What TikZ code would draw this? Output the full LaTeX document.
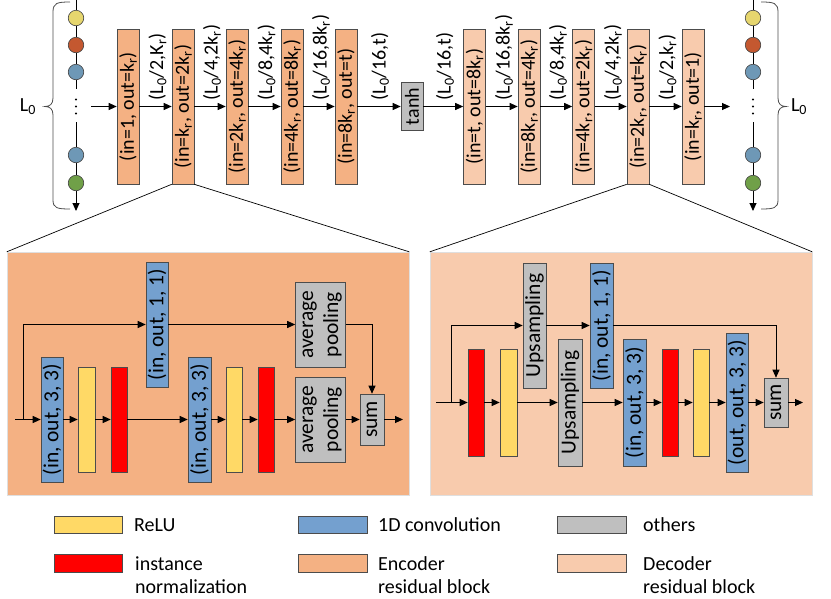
\documentclass[tikz,border=0pt]{standalone}
\usepackage{fontspec}
\setmainfont{Carlito}
\usetikzlibrary{arrows.meta}
\newcommand{\LzS}{L\textsubscript{0}}
\newcommand{\krS}{k\textsubscript{r}}
\definecolor{encC}{HTML}{F4B183}
\definecolor{decC}{HTML}{F8CBAD}
\definecolor{othC}{HTML}{BFBFBF}
\definecolor{convC}{HTML}{74A0CF}
\definecolor{reluC}{HTML}{FFD966}
\definecolor{normC}{HTML}{FF0000}
\definecolor{cYel}{HTML}{E6D66E}
\definecolor{cBrn}{HTML}{C45830}
\definecolor{cBlu}{HTML}{6E98B6}
\definecolor{cGrn}{HTML}{70A048}
\begin{document}
\begin{tikzpicture}[x=1pt,y=-1pt,
  every node/.style={font=\fontsize{20}{24}\selectfont, inner sep=0pt},
  bfont/.style={font=\fontsize{21.5}{25}\selectfont},
  blk/.style={draw=black!70, line width=0.6pt, inner sep=0pt},
  sz/.style 2 args={minimum width=#1pt, minimum height=#2pt},
  circ/.style={circle, draw=black!75, line width=0.6pt, minimum size=15.5pt},
  arr/.style={-{Triangle[length=8pt,width=7pt]}, line width=0.9pt},
  ln/.style={line width=0.9pt},
  brc/.style={line width=0.8pt, black!70},
  ]
\useasboundingbox (0,0) rectangle (831,598);

% ---- panels ----
\node[fill=encC, draw=gray!25, sz={402}{243}] (Lp) at (208,373.5) {};
\node[fill=decC, draw=gray!25, sz={382}{243}] (Rp) at (621,373.5) {};

% ---- top row blocks ----
\node[blk, fill=encC, sz={22}{155}] (e1) at (128,106.5) {\rotatebox{90}{(in=1, out=\krS)}};
\node[blk, fill=encC, sz={22}{155}] (e2) at (183,106.5) {\rotatebox{90}{(in=\krS, out=2\krS)}};
\node[blk, fill=encC, sz={22}{155}] (e3) at (237,106.5) {\rotatebox{90}{(in=2\krS, out=4\krS)}};
\node[blk, fill=encC, sz={22}{155}] (e4) at (292,106.5) {\rotatebox{90}{(in=4\krS, out=8\krS)}};
\node[blk, fill=encC, sz={22}{155}] (e5) at (346,106.5) {\rotatebox{90}{(in=8\krS, out=t)}};
\node[blk, fill=othC, sz={22}{48}] (th) at (412,106.5) {\rotatebox{90}{tanh}};
\node[blk, fill=decC, sz={22}{155}] (d1) at (474.5,106.5) {\rotatebox{90}{(in=t, out=8\krS)}};
\node[blk, fill=decC, sz={22}{155}] (d2) at (529,106.5) {\rotatebox{90}{(in=8\krS, out=4\krS)}};
\node[blk, fill=decC, sz={22}{155}] (d3) at (583.5,106.5) {\rotatebox{90}{(in=4\krS, out=2\krS)}};
\node[blk, fill=decC, sz={22}{155}] (d4) at (638,106.5) {\rotatebox{90}{(in=2\krS, out=\krS)}};
\node[blk, fill=decC, sz={22}{155}] (d5) at (693,106.5) {\rotatebox{90}{(in=\krS, out=1)}};

\coordinate (tin) at (91,106.5);
\coordinate (tout) at (730,106.5);
\draw[arr] (tin) -- (e1);
\draw[arr] (e1) -- (e2);
\draw[arr] (e2) -- (e3);
\draw[arr] (e3) -- (e4);
\draw[arr] (e4) -- (e5);
\draw[arr] (e5) -- (th);
\draw[arr] (th) -- (d1);
\draw[arr] (d1) -- (d2);
\draw[arr] (d2) -- (d3);
\draw[arr] (d3) -- (d4);
\draw[arr] (d4) -- (d5);
\draw[arr] (d5) -- (tout);

% ---- top labels ----
\node[anchor=south] (t1) at (157.5,100.5) {\rotatebox{90}{(\LzS/2,K\textsubscript{r})}};
\node[anchor=south] (t2) at (212,100.5) {\rotatebox{90}{(\LzS/4,2\krS)}};
\node[anchor=south] (t3) at (266.5,100.5) {\rotatebox{90}{(\LzS/8,4\krS)}};
\node[anchor=south] (t4) at (321,100.5) {\rotatebox{90}{(\LzS/16,8\krS)}};
\node[anchor=south] (t5) at (380,100.5) {\rotatebox{90}{(\LzS/16,t)}};
\node[anchor=south] (t6) at (445,100.5) {\rotatebox{90}{(\LzS/16,t)}};
\node[anchor=south] (t7) at (504,100.5) {\rotatebox{90}{(\LzS/16,8\krS)}};
\node[anchor=south] (t8) at (558,100.5) {\rotatebox{90}{(\LzS/8,4\krS)}};
\node[anchor=south] (t9) at (613,100.5) {\rotatebox{90}{(\LzS/4,2\krS)}};
\node[anchor=south] (t10) at (667.5,100.5) {\rotatebox{90}{(\LzS/2,\krS)}};

% ---- left sequence column ----
\node[circ, fill=cYel] (a1) at (76,18) {};
\node[circ, fill=cBrn] (a2) at (76,45) {};
\node[circ, fill=cBlu] (a3) at (76,72) {};
\node[circ, fill=cBlu] (a4) at (76,155) {};
\node[circ, fill=cGrn] (a5) at (76,183) {};
\coordinate (atop) at (76,0);
\coordinate (ag1) at (76,89);
\coordinate (ag2) at (76,122);
\coordinate (abot) at (76,211);
\draw[ln] (atop) -- (a1) -- (a2) -- (a3) -- (ag1);
\draw[ln] (ag2) -- (a4) -- (a5);
\draw[arr] (a5) -- (abot);
\fill (76,99.5) circle (1.2pt) (76,106.5) circle (1.2pt) (76,113.5) circle (1.2pt);
\draw[brc] (70,2) .. controls (57,2) and (53,3) .. (53,12) -- (53,98)
  .. controls (53,104) and (50,106.5) .. (45,106.5)
  .. controls (50,106.5) and (53,109) .. (53,115) -- (53,200)
  .. controls (53,208) and (57,209) .. (70,209);
\node (LL) at (28,106.5) {\LzS};

% ---- right sequence column ----
\node[circ, fill=cYel] (b1) at (753,18) {};
\node[circ, fill=cBrn] (b2) at (753,45) {};
\node[circ, fill=cBlu] (b3) at (753,72) {};
\node[circ, fill=cBlu] (b4) at (753,155) {};
\node[circ, fill=cGrn] (b5) at (753,183) {};
\coordinate (btop) at (753,0);
\coordinate (bg1) at (753,89);
\coordinate (bg2) at (753,122);
\coordinate (bbot) at (753,211);
\draw[ln] (btop) -- (b1) -- (b2) -- (b3) -- (bg1);
\draw[ln] (bg2) -- (b4) -- (b5);
\draw[arr] (b5) -- (bbot);
\fill (753,99.5) circle (1.2pt) (753,106.5) circle (1.2pt) (753,113.5) circle (1.2pt);
\draw[brc] (761,2) .. controls (774,2) and (778,3) .. (778,12) -- (778,98)
  .. controls (778,104) and (781,106.5) .. (786,106.5)
  .. controls (781,106.5) and (778,109) .. (778,115) -- (778,200)
  .. controls (778,208) and (774,209) .. (761,209);
\node (RL) at (799,106.5) {\LzS};

% ---- zoom lines ----
\draw[line width=0.7pt] (e2.south west) -- (Lp.north west);
\draw[line width=0.7pt] (e2.south east) -- (Lp.north east);
\draw[line width=0.7pt] (d4.south west) -- (Rp.north west);
\draw[line width=0.7pt] (d4.south east) -- (Rp.north east);

% ---- encoder residual block ----
\node[blk, bfont, fill=convC, sz={22}{125}] (Lc1) at (52,419.5) {\rotatebox{90}{(in, out, 3, 3)}};
\node[blk, fill=reluC, sz={17}{105}] (Ly1) at (86.5,419.5) {};
\node[blk, fill=normC, sz={16}{105}] (Lr1) at (119,419.5) {};
\node[blk, bfont, fill=convC, sz={23}{125}] (Lc2) at (199.5,419.5) {\rotatebox{90}{(in, out, 3, 3)}};
\node[blk, fill=reluC, sz={16}{105}] (Ly2) at (234,419.5) {};
\node[blk, fill=normC, sz={16}{105}] (Lr2) at (266,419.5) {};
\node[blk, bfont, fill=othC, sz={47}{85}] (La2) at (320.5,419.5) {\rotatebox{90}{\begin{tabular}{@{}c@{}}average\\pooling\end{tabular}}};
\node[blk, bfont, fill=othC, sz={24}{51}] (Ls) at (372,419.5) {\rotatebox{90}{sum}};
\node[blk, bfont, fill=convC, sz={22}{125}] (Lk) at (157,324.5) {\rotatebox{90}{(in, out, 1, 1)}};
\node[blk, bfont, fill=othC, sz={47}{85}] (La1) at (320.5,324.5) {\rotatebox{90}{\begin{tabular}{@{}c@{}}average\\pooling\end{tabular}}};
\coordinate (Lin) at (15,419.5);
\coordinate (Lbr) at (23,419.5);
\coordinate (Lout) at (403,419.5);
\draw[arr] (Lin) -- (Lc1);
\draw[arr] (Lbr) |- (Lk);
\draw[arr] (Lc1) -- (Ly1);
\draw[arr] (Ly1) -- (Lr1);
\draw[arr] (Lr1) -- (Lc2);
\draw[arr] (Lc2) -- (Ly2);
\draw[arr] (Ly2) -- (Lr2);
\draw[arr] (Lr2) -- (La2);
\draw[arr] (La2) -- (Ls);
\draw[arr] (Ls) -- (Lout);
\draw[arr] (Lk) -- (La1);
\draw[arr] (La1) -| (Ls);

% ---- decoder residual block ----
\node[blk, fill=normC, sz={16}{107}] (Rr1) at (476,402.5) {};
\node[blk, fill=reluC, sz={17}{107}] (Ry1) at (508.5,402.5) {};
\node[blk, bfont, fill=othC, sz={23}{125}] (Ru1) at (534.5,325.5) {\rotatebox{90}{Upsampling}};
\node[blk, bfont, fill=othC, sz={24}{127}] (Ru2) at (570,402.5) {\rotatebox{90}{Upsampling}};
\node[blk, bfont, fill=convC, sz={23}{125}] (Rk) at (601.5,325.5) {\rotatebox{90}{(in, out, 1, 1)}};
\node[blk, bfont, fill=convC, sz={23}{127}] (Rc1) at (634.5,402.5) {\rotatebox{90}{(in, out, 3, 3)}};
\node[blk, fill=normC, sz={16}{107}] (Rr2) at (670,402.5) {};
\node[blk, fill=reluC, sz={16}{107}] (Ry2) at (701,402.5) {};
\node[blk, bfont, fill=convC, sz={22}{139}] (Rc2) at (737,402.5) {\rotatebox{90}{(out, out, 3, 3)}};
\node[blk, bfont, fill=othC, sz={24}{49}] (Rs) at (776,402.5) {\rotatebox{90}{sum}};
\coordinate (Rin) at (436,402.5);
\coordinate (Rbr) at (451,402.5);
\coordinate (Rout) at (803,402.5);
\draw[arr] (Rin) -- (Rr1);
\draw[arr] (Rbr) |- (Ru1);
\draw[arr] (Rr1) -- (Ry1);
\draw[arr] (Ry1) -- (Ru2);
\draw[arr] (Ru2) -- (Rc1);
\draw[arr] (Rc1) -- (Rr2);
\draw[arr] (Rr2) -- (Ry2);
\draw[arr] (Ry2) -- (Rc2);
\draw[arr] (Rc2) -- (Rs);
\draw[arr] (Rs) -- (Rout);
\draw[arr] (Ru1) -- (Rk);
\draw[arr] (Rk) -| (Rs);

% ---- legend ----
\node[blk, fill=reluC, sz={68}{17}] (g1) at (88,524.5) {};
\node[blk, fill=normC, sz={68}{18}] (g2) at (88,563) {};
\node[blk, fill=convC, sz={69}{17}] (g3) at (332.5,524.5) {};
\node[blk, fill=encC, sz={69}{18}] (g4) at (332.5,563) {};
\node[blk, fill=othC, sz={69}{17}] (g5) at (591.5,524.5) {};
\node[blk, fill=decC, sz={69}{18}] (g6) at (591.5,563) {};
\node[anchor=base west] (gt1) at (134,531) {ReLU};
\node[anchor=base west] (gt2a) at (135,570) {instance};
\node[anchor=base west] (gt2b) at (135,593) {normalization};
\node[anchor=base west] (gt3) at (378,531) {1D convolution};
\node[anchor=base west] (gt4a) at (378,570) {Encoder};
\node[anchor=base west] (gt4b) at (378,593) {residual block};
\node[anchor=base west] (gt5) at (643,531) {others};
\node[anchor=base west] (gt6a) at (643,570) {Decoder};
\node[anchor=base west] (gt6b) at (643,593) {residual block};
\end{tikzpicture}
\end{document}
